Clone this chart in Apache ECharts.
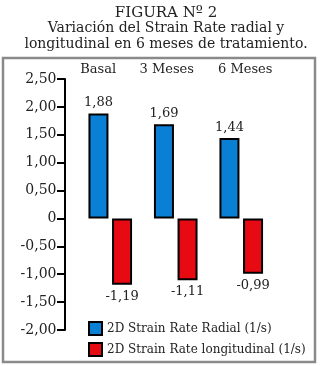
<!DOCTYPE html>
<html>
<head>
<meta charset="utf-8">
<script src="https://cdn.jsdelivr.net/npm/echarts@6/dist/echarts.min.js"></script>
<style>html,body{margin:0;padding:0;background:#fff;}#c{width:320px;height:366px;}</style>
</head>
<body>
<div id="c"></div>
<script>
const categories = ['Basal', '3 Meses', '6 Meses'];
const radial = [1.88, 1.69, 1.44];
const longitudinal = [-1.19, -1.11, -0.99];
const seriesNames = ['2D Strain Rate Radial (1/s)', '2D Strain Rate longitudinal (1/s)'];
const titleLines = ['FIGURA Nº 2', 'Variación del Strain Rate radial y', 'longitudinal en 6 meses de tratamiento.'];

const FONT = 'DejaVu Serif';
const fmt = v => (v === 0 ? '0' : v.toFixed(2).replace('.', ','));
const chart = echarts.init(document.getElementById('c'), null, {renderer: 'canvas'});
chart.setOption({
  animation: false,
  backgroundColor: '#fff',
  title: {
    text: '{a|' + titleLines[0] + '}\n{b|' + titleLines[1] + '}\n{b|' + titleLines[2] + '}',
    left: 161, textAlign: 'center', top: 0,
    textStyle: {
      fontFamily: FONT, fontWeight: 'normal', color: '#222', align: 'center',
      rich: {
        a: {fontFamily: FONT, fontSize: 15, lineHeight: 16, color: '#222', align: 'center'},
        b: {fontFamily: FONT, fontSize: 14, lineHeight: 15.5, color: '#222', align: 'center'}
      }
    }
  },
  graphic: [{
    type: 'rect', shape: {x: 3, y: 58, width: 312, height: 304},
    style: {fill: 'none', stroke: '#8a8a8a', lineWidth: 2.5}, silent: true, z: 0
  }],
  legend: {
    orient: 'vertical', left: 88, top: 321, padding: 0, itemWidth: 13, itemHeight: 13, itemGap: 6,
    icon: 'rect',
    textStyle: {fontFamily: FONT, fontSize: 12, color: '#222'}
  },
  grid: {left: 77.5, width: 196.5, top: 79, bottom: 36},
  xAxis: {
    type: 'category', data: categories, position: 'top',
    axisLine: {show: false, onZero: false}, axisTick: {show: false},
    axisLabel: {
      interval: 0, fontFamily: FONT, fontSize: 13, color: '#222', margin: 3,
      formatter: (v, i) => '{c' + i + '|' + v + '}',
      rich: {
        c0: {fontFamily: FONT, fontSize: 13, color: '#222', padding: [0, 24, 0, 0]},
        c1: {fontFamily: FONT, fontSize: 13, color: '#222', padding: [0, 18, 0, 0]},
        c2: {fontFamily: FONT, fontSize: 13, color: '#222', padding: [0, 0, 0, 8]}
      }
    }
  },
  yAxis: {
    type: 'value', min: -2, max: 2.5, interval: 0.5, offset: 12.5,
    splitLine: {show: false},
    axisLine: {show: true, lineStyle: {color: '#000', width: 2}},
    axisTick: {show: true, length: 8, lineStyle: {color: '#000', width: 2}},
    axisLabel: {fontFamily: FONT, fontSize: 14, color: '#222', margin: 8.5, formatter: fmt}
  },
  series: [{
    name: seriesNames[0], type: 'bar', data: radial, barWidth: 20, barGap: '18%',
    itemStyle: {color: '#0a80d4', borderColor: '#000', borderWidth: 2},
    label: {show: true, position: 'top', distance: 4, fontFamily: FONT, fontSize: 13, color: '#222', formatter: p => fmt(p.value)}
  }, {
    name: seriesNames[1], type: 'bar', data: longitudinal, barWidth: 20,
    itemStyle: {color: '#e80a12', borderColor: '#000', borderWidth: 2},
    label: {show: true, position: 'bottom', distance: 5, fontFamily: FONT, fontSize: 13, color: '#222', formatter: p => fmt(p.value)}
  }]
});
</script>
</body>
</html>
